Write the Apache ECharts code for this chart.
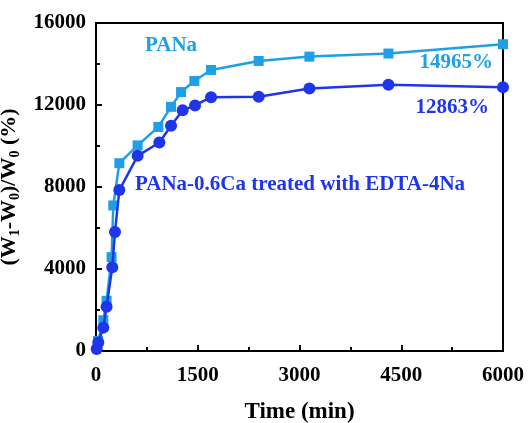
<!DOCTYPE html>
<html>
<head>
<meta charset="utf-8">
<script src="https://cdn.jsdelivr.net/npm/echarts@6/dist/echarts.min.js"></script>
<style>
  html, body { margin: 0; padding: 0; background: #fff; }
  #chart { width: 528px; height: 423px; }
</style>
</head>
<body>
<div id="chart"></div>
<script>
// Swelling ratio over time for the two gels
const panaTime = [30, 108, 156, 230, 255, 344, 614, 919, 1106, 1254, 1450, 1696, 2398, 3146, 4311, 6000];
const panaVal  = [490, 1500, 2450, 4580, 7100, 9160, 10030, 10930, 11910, 12630, 13170, 13710, 14150, 14360, 14510, 14965];

const caTime = [10, 34, 108, 156, 240, 280, 344, 614, 934, 1106, 1277, 1460, 1696, 2398, 3146, 4311, 6000];
const caVal  = [100, 410, 1140, 2160, 4090, 5810, 7850, 9520, 10170, 10990, 11740, 11980, 12380, 12400, 12810, 12990, 12863];

const xTicks = [0, 1500, 3000, 4500, 6000];
const yTicks = [0, 4000, 8000, 12000, 16000];

const LIGHT = '#1E9FE8';
const DARK = '#1F35EA';
const FONT = '"Liberation Serif", "Times New Roman", serif';

// pair up time/value and put a percentage label on the final point
function buildData(times, vals, labelCfg) {
  return times.map((t, i) => {
    const item = { value: [t, vals[i]] };
    if (i === times.length - 1) {
      item.label = Object.assign({
        show: true,
        formatter: vals[i] + '%',
        position: 'left',
        fontFamily: FONT,
        fontWeight: 'bold',
        fontSize: 21
      }, labelCfg);
    }
    return item;
  });
}

const chart = echarts.init(document.getElementById('chart'), null, { renderer: 'canvas' });

const axisLabelStyle = {
  fontFamily: FONT, fontWeight: 'bold', fontSize: 21, color: '#000',
  formatter: v => String(v)
};

chart.setOption({
  animation: false,
  backgroundColor: '#fff',
  grid: {
    left: 96, right: 25, top: 23, bottom: 72,
    containLabel: false,
    outerBoundsMode: 'none',
    show: true, borderColor: '#000', borderWidth: 2, backgroundColor: 'transparent'
  },
  xAxis: {
    type: 'value',
    min: xTicks[0], max: xTicks[xTicks.length - 1], interval: 1500,
    name: 'Time (min)',
    nameLocation: 'middle',
    nameGap: 50,
    nameTextStyle: { fontFamily: FONT, fontWeight: 'bold', fontSize: 23, color: '#000' },
    axisLine: { show: true, lineStyle: { color: '#000', width: 2 } },
    axisTick: { show: true, inside: true, length: 6, lineStyle: { color: '#000', width: 2 } },
    minorTick: { show: true, splitNumber: 2, length: 4, lineStyle: { color: '#000', width: 2 } },
    axisLabel: Object.assign({ margin: 14, alignMinLabel: 'center', alignMaxLabel: 'center', hideOverlap: false }, axisLabelStyle),
    splitLine: { show: false }
  },
  yAxis: {
    type: 'value',
    min: yTicks[0], max: yTicks[yTicks.length - 1], interval: 4000,
    name: '(W{s|1}-W{s|0})/W{s|0} (%)',
    nameLocation: 'middle',
    nameGap: 45,
    nameRotate: 90,
    nameTextStyle: {
      fontFamily: FONT, fontWeight: 'bold', fontSize: 22, color: '#000', lineHeight: 26,
      rich: {
        s: { fontFamily: FONT, fontWeight: 'bold', fontSize: 14, color: '#000', lineHeight: 12, verticalAlign: 'bottom' }
      }
    },
    axisLine: { show: true, lineStyle: { color: '#000', width: 2 } },
    axisTick: { show: true, inside: true, length: 6, lineStyle: { color: '#000', width: 2 } },
    minorTick: { show: true, splitNumber: 2, length: 4, lineStyle: { color: '#000', width: 2 } },
    axisLabel: Object.assign({ margin: 10 }, axisLabelStyle),
    splitLine: { show: false }
  },
  series: [
    {
      name: 'PANa',
      type: 'line',
      data: buildData(panaTime, panaVal, { color: LIGHT, distance: 5, offset: [0, 18] }),
      symbol: 'rect',
      symbolSize: 10,
      lineStyle: { color: LIGHT, width: 2.5 },
      itemStyle: { color: LIGHT },
      z: 2
    },
    {
      name: 'PANa-0.6Ca treated with EDTA-4Na',
      type: 'line',
      data: buildData(caTime, caVal, { color: DARK, distance: 8, offset: [0, 20] }),
      symbol: 'circle',
      symbolSize: 12,
      lineStyle: { color: DARK, width: 2.5 },
      itemStyle: { color: DARK },
      z: 3
    }
  ],
  graphic: [
    {
      type: 'text', left: 145, top: 35,
      style: { text: 'PANa', fill: LIGHT, font: 'bold 21px ' + FONT }
    },
    {
      type: 'text', left: 135, top: 174,
      style: { text: 'PANa-0.6Ca treated with EDTA-4Na', fill: DARK, font: 'bold 21px ' + FONT }
    }
  ]
});
</script>
</body>
</html>
